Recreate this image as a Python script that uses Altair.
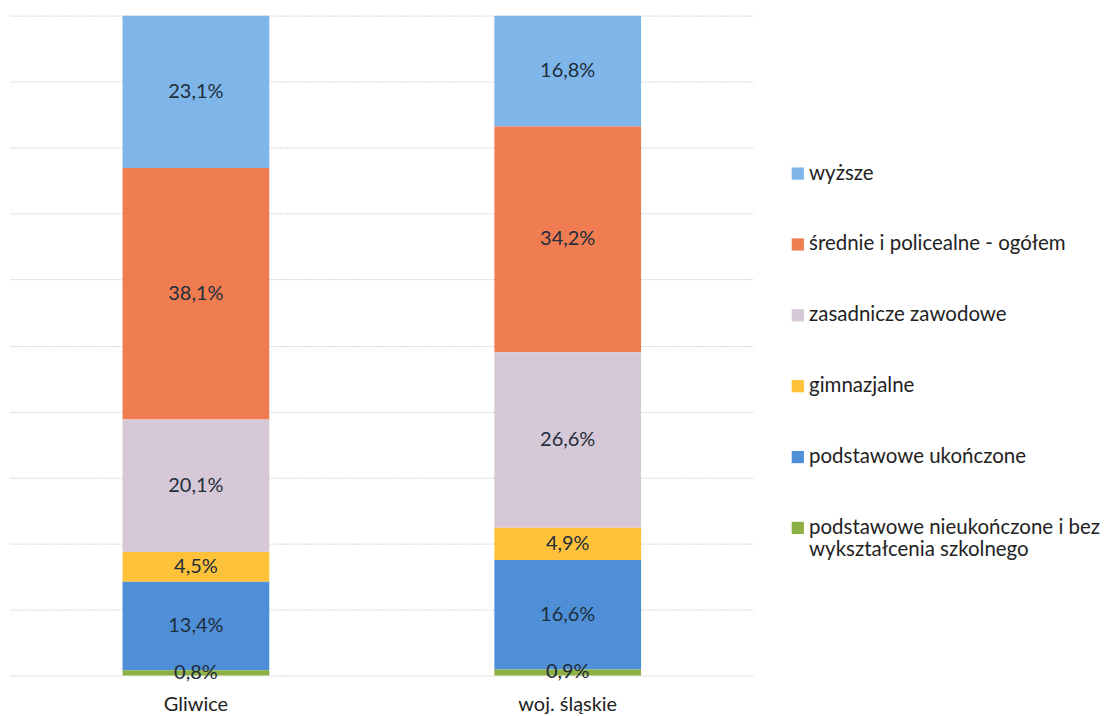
import altair as alt
import pandas as pd

regions = ["Gliwice", "woj. śląskie"]
levels = [
    "wyższe",
    "średnie i policealne - ogółem",
    "zasadnicze zawodowe",
    "gimnazjalne",
    "podstawowe ukończone",
    "podstawowe nieukończone i bez wykształcenia szkolnego",
]
colors = ["#7EB6EA", "#F07D52", "#D6C8D6", "#FDC23A", "#4F8FD8", "#8CB043"]
gliwice = [23.1, 38.1, 20.1, 4.5, 13.4, 0.8]
slaskie = [16.8, 34.2, 26.6, 4.9, 16.6, 0.9]

rows = []
for reg, vals in zip(regions, [gliwice, slaskie]):
    for i, (lev, v) in enumerate(zip(levels, vals)):
        rows.append({"region": reg, "level": lev, "value": v,
                     "ord": len(levels) - 1 - i,
                     "label": f"{v:.1f}%".replace(".", ",")})
df = pd.DataFrame(rows)

FONT = "Lato"

base = alt.Chart(df).transform_stack(
    stack="value", groupby=["region"], as_=["y0", "y1"],
    sort=[alt.SortField("ord", order="ascending")]
).transform_calculate(mid="(datum.y0 + datum.y1) / 2")

x_enc = alt.X("region:N", sort=regions, title=None,
              axis=alt.Axis(labelAngle=0, labelFont=FONT, labelFontSize=20,
                            labelColor="#222222", ticks=False, domain=False,
                            grid=False, labelPadding=19))

bars = base.mark_bar(size=147).encode(
    x=x_enc,
    y=alt.Y("y0:Q", scale=alt.Scale(domain=[0, 100], nice=False), title=None,
            axis=alt.Axis(labels=False, ticks=False, domain=False, grid=True,
                          values=list(range(0, 101, 10)),
                          gridColor="#d4d4d4", gridWidth=1, gridDash=[2, 1])),
    y2="y1:Q",
    color=alt.Color("level:N",
                    scale=alt.Scale(domain=levels, range=colors),
                    legend=alt.Legend(
                        title=None, orient="none", legendX=779, legendY=148,
                        symbolType="square", symbolSize=150, symbolStrokeWidth=0,
                        labelFont=FONT, labelFontSize=20.5, labelColor="#222222",
                        labelLimit=400, rowPadding=50, labelOffset=1,
                        labelExpr="datum.label == 'podstawowe nieukończone i bez wykształcenia szkolnego' ? ['podstawowe nieukończone i bez', 'wykształcenia szkolnego'] : datum.label",
                    )),
)

texts = base.mark_text(font=FONT, fontSize=20, color="#1E2D3C").encode(
    x=alt.X("region:N", sort=regions),
    y=alt.Y("mid:Q", axis=alt.Axis(labels=False, ticks=False, domain=False)),
    text="label:N",
)

chart = alt.layer(bars, texts).properties(
    width=745, height=661,
    background="white",
    autosize=alt.AutoSizeParams(type="none"),
    padding={"left": 2, "top": 7, "right": 355, "bottom": 40},
).configure_view(stroke="transparent", strokeWidth=0).configure_axisX(grid=False)

chart.save("out.html", embed_options={"renderer": "svg", "actions": False})
